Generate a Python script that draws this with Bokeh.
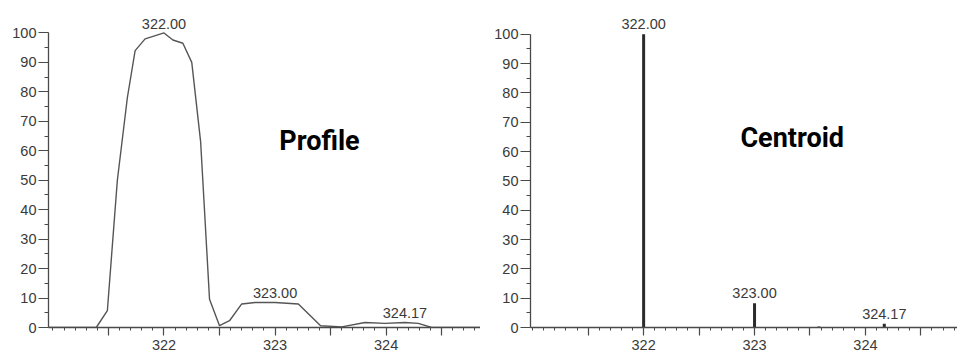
from bokeh.plotting import figure
from bokeh.layouts import row
from bokeh.models import Range1d, FixedTicker
from bokeh.core.properties import value
from bokeh.embed import file_html
from bokeh.resources import INLINE

# ---- data ----
profile_mz = [320.96, 321.17, 321.39, 321.49, 321.58, 321.67, 321.74, 321.83, 322.00,
              322.08, 322.17, 322.25, 322.33, 322.41, 322.50, 322.59, 322.70, 322.82,
              323.00, 323.21, 323.41, 323.60, 323.81, 323.99, 324.17, 324.29, 324.41, 324.85]
profile_int = [0, 0, 0, 5.7, 50, 78, 94, 98, 100,
               97.6, 96.5, 90, 63, 9.6, 0.6, 2.3, 8.0, 8.5,
               8.5, 8.0, 0.6, 0.2, 1.7, 1.4, 1.7, 1.4, 0, 0]

centroid_mz = [322.00, 323.00, 323.58, 324.17, 324.52, 324.70]
centroid_int = [100, 8.3, 0.3, 1.3, 0.2, 0.2]

label_mz = [322.00, 323.00, 324.17]
label_text = ["322.00", "323.00", "324.17"]
label_profile_int = [100, 8.5, 1.7]
label_centroid_int = [100, 8.3, 1.3]

y_ticks = [0, 10, 20, 30, 40, 50, 60, 70, 80, 90, 100]
y_minor = [5, 15, 25, 35, 45, 55, 65, 75, 85, 95]
x_ticks = [321.5, 322.0, 322.5, 323.0, 323.5, 324.0, 324.5]
x_labels = {321.5: "", 322: "322", 322.5: "", 323: "323", 323.5: "", 324: "324", 324.5: ""}
x_minor = [round(321.0 + 0.1 * i, 1) for i in range(39)]

TICK_FONT_NAME = "Liberation Sans"
TITLE_FONT_NAME = "Roboto"
AX_COLOR = "#4a4a4a"
TXT_COLOR = "#3a3a3a"


def style(p, bottom_out, standoff):
    p.outline_line_color = None
    p.xgrid.visible = False
    p.ygrid.visible = False
    for ax in (p.xaxis[0], p.yaxis[0]):
        ax.axis_line_color = AX_COLOR
        ax.axis_line_width = 1.3
        ax.major_tick_line_color = AX_COLOR
        ax.minor_tick_line_color = AX_COLOR
        ax.major_tick_line_width = 1.2
        ax.minor_tick_line_width = 1
        ax.major_tick_in = 0
        ax.minor_tick_in = 0
        ax.major_label_text_font = TICK_FONT_NAME
        ax.major_label_text_font_size = "14.5px"
        ax.major_label_text_color = TXT_COLOR
    p.yaxis.ticker = FixedTicker(ticks=y_ticks, minor_ticks=y_minor)
    p.yaxis.major_tick_out = 10
    p.yaxis.minor_tick_out = 4
    p.yaxis.major_label_standoff = 2
    p.yaxis.bounds = (0, 100)
    p.xaxis.ticker = FixedTicker(ticks=x_ticks, minor_ticks=x_minor)
    p.xaxis.major_label_overrides = x_labels
    p.xaxis.major_tick_out = bottom_out
    p.xaxis.minor_tick_out = 3
    p.xaxis.major_label_standoff = standoff


# ---- left: profile ----
p1 = figure(width=480, height=356, output_backend="svg", toolbar_location=None,
            x_range=Range1d(320.96, 324.85), y_range=Range1d(0, 110),
            min_border_left=48, min_border_right=0, min_border_top=3, min_border_bottom=29)
style(p1, 8, 4)
p1.line(profile_mz, profile_int, line_color="#555555", line_width=1.4)
p1.text(x=label_mz, y=label_profile_int, text=label_text, text_align="center",
        text_baseline="bottom", y_offset=-4, text_font=value(TICK_FONT_NAME),
        text_font_size="14.5px", text_color=TXT_COLOR)
p1.text(x=[323.40], y=[63.4], text=["Profile"], text_align="center",
        text_baseline="middle", text_font=value(TITLE_FONT_NAME), text_font_style="bold",
        text_font_size="27px", text_color="#000000")

# ---- right: centroid ----
p2 = figure(width=477, height=356, output_backend="svg", toolbar_location=None,
            x_range=Range1d(320.98, 324.83), y_range=Range1d(0, 110.5),
            min_border_left=50, min_border_right=0, min_border_top=3, min_border_bottom=29)
style(p2, 8, 4)
p2.segment(x0=centroid_mz, y0=[0] * len(centroid_mz), x1=centroid_mz, y1=centroid_int,
           line_color="#2b2b2b", line_width=3)
p2.text(x=label_mz, y=label_centroid_int, text=label_text, text_align="center",
        text_baseline="bottom", y_offset=-5, text_font=value(TICK_FONT_NAME),
        text_font_size="14.5px", text_color=TXT_COLOR)
p2.text(x=[323.34], y=[64.6], text=["Centroid"], text_align="center",
        text_baseline="middle", text_font=value(TITLE_FONT_NAME), text_font_style="bold",
        text_font_size="27px", text_color="#000000")

layout = row(p1, p2)
open("out.html", "w").write(file_html(layout, INLINE))
